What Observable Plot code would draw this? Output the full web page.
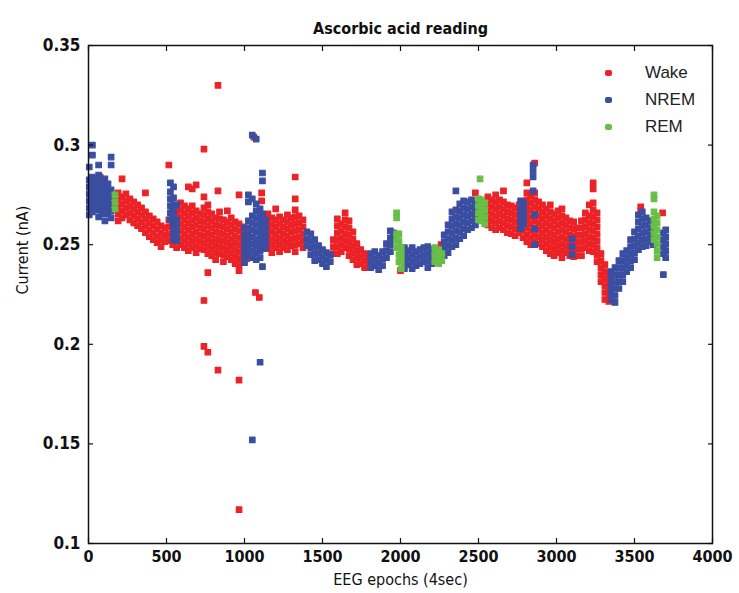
<!DOCTYPE html>
<html><head><meta charset="utf-8">
<script src="https://cdn.jsdelivr.net/npm/d3@7"></script>
<script src="https://cdn.jsdelivr.net/npm/@observablehq/plot@0.6"></script>
<style>
body{margin:0;background:#fff;}
#wrap{position:relative;width:739px;height:593px;}
#legend{position:absolute;left:0;top:0;font-family:"Liberation Sans",Arial,sans-serif;font-size:17px;color:#222;}
.item{position:absolute;white-space:nowrap;line-height:20px;}
.sw{position:absolute;width:7px;height:6px;border-radius:2px;}
</style></head><body><div id="wrap"><div id="legend"></div></div>
<script>
const title = "Ascorbic acid reading";
const xLabel = "EEG epochs (4sec)";
const yLabel = "Current (nA)";
const states = ["Wake", "NREM", "REM"];
const colors = ["#ec2227", "#3a4ea2", "#69bf45"];
const xTicks = [0, 500, 1000, 1500, 2000, 2500, 3000, 3500, 4000];
const yTicks = [0.1, 0.15, 0.2, 0.25, 0.3, 0.35];

// each row: [epoch, current values (nA) read at that epoch ...]
const wake = [
 [20, 0.272], [75, 0.284], [100, 0.282, 0.275],
 [190, 0.276, 0.2725, 0.269, 0.2655, 0.262],
 [215, 0.283, 0.274, 0.2705, 0.267, 0.2635],
 [240, 0.2755, 0.272, 0.2685, 0.265],
 [265, 0.273, 0.2695, 0.266, 0.2625],
 [290, 0.2715, 0.268, 0.2645, 0.261],
 [315, 0.270, 0.2665, 0.263, 0.2595],
 [340, 0.2685, 0.265, 0.2615, 0.258],
 [365, 0.276, 0.2665, 0.263, 0.2595, 0.256],
 [390, 0.2645, 0.261, 0.2575, 0.254],
 [415, 0.263, 0.2595, 0.256, 0.2525],
 [440, 0.2615, 0.258, 0.2545, 0.251],
 [465, 0.2595, 0.256, 0.2525, 0.249],
 [490, 0.2585, 0.255, 0.2515],
 [515, 0.290, 0.2625, 0.259, 0.2555, 0.252],
 [540, 0.2675, 0.264, 0.2605, 0.257, 0.2535, 0.250],
 [565, 0.2695, 0.266, 0.2625, 0.259, 0.2555, 0.252, 0.2485],
 [590, 0.271, 0.2675, 0.264, 0.2605, 0.257, 0.2535, 0.250],
 [615, 0.2695, 0.266, 0.2625, 0.259, 0.2555, 0.252, 0.2485],
 [640, 0.279, 0.268, 0.2645, 0.261, 0.2575, 0.254, 0.2505, 0.247],
 [665, 0.278, 0.2695, 0.266, 0.2625, 0.259, 0.2555, 0.252, 0.2485],
 [690, 0.280, 0.267, 0.2635, 0.260, 0.2565, 0.253, 0.2495, 0.246],
 [715, 0.2655, 0.262, 0.2585, 0.255, 0.2515, 0.248],
 [740, 0.298, 0.274, 0.2685, 0.265, 0.2615, 0.258, 0.2545, 0.251, 0.2475, 0.222, 0.199],
 [765, 0.270, 0.2665, 0.263, 0.2595, 0.256, 0.2525, 0.249, 0.2455, 0.236, 0.196],
 [790, 0.2655, 0.262, 0.2585, 0.255, 0.2515, 0.248, 0.2445],
 [815, 0.2635, 0.260, 0.2565, 0.253, 0.2495, 0.246, 0.2425],
 [830, 0.330, 0.277, 0.187],
 [840, 0.2665, 0.263, 0.2595, 0.256, 0.2525, 0.249, 0.2455],
 [865, 0.2625, 0.259, 0.2555, 0.252, 0.2485, 0.245, 0.2415],
 [890, 0.267, 0.2615, 0.258, 0.2545, 0.251, 0.2475, 0.244],
 [915, 0.2635, 0.260, 0.2565, 0.253, 0.2495, 0.246, 0.2425],
 [940, 0.2615, 0.258, 0.2545, 0.251, 0.2475, 0.244, 0.2405],
 [965, 0.275, 0.2605, 0.257, 0.2535, 0.250, 0.2465, 0.243, 0.2395, 0.237, 0.182, 0.117],
 [990, 0.259, 0.2555, 0.252, 0.2485, 0.245, 0.2415],
 [1015, 0.257, 0.2535, 0.250, 0.2465, 0.243],
 [1060, 0.304], [1070, 0.226], [1095, 0.2235], [1110, 0.276, 0.272],
 [1150, 0.2655, 0.262, 0.2585, 0.255, 0.2515, 0.248],
 [1175, 0.2635, 0.260, 0.2565, 0.253, 0.2495, 0.246],
 [1200, 0.268, 0.2625, 0.259, 0.2555, 0.252, 0.2485],
 [1225, 0.264, 0.2605, 0.257, 0.2535, 0.250, 0.2465],
 [1250, 0.2625, 0.259, 0.2555, 0.252, 0.2485],
 [1275, 0.265, 0.2615, 0.258, 0.2545, 0.251, 0.2475],
 [1300, 0.2635, 0.260, 0.2565, 0.253, 0.2495],
 [1325, 0.284, 0.273, 0.2675, 0.264, 0.2605, 0.257, 0.2535, 0.250, 0.2465],
 [1350, 0.2645, 0.261, 0.2575, 0.254, 0.2505],
 [1375, 0.2625, 0.259, 0.2555, 0.252, 0.2485],
 [1570, 0.2525, 0.249, 0.2455],
 [1595, 0.263, 0.2595, 0.256, 0.2525, 0.249, 0.2455],
 [1620, 0.2605, 0.257, 0.2535, 0.250, 0.2465],
 [1645, 0.266, 0.2625, 0.259, 0.2555, 0.252, 0.2485],
 [1670, 0.262, 0.2585, 0.255, 0.2515, 0.248, 0.2445],
 [1695, 0.2565, 0.253, 0.2495, 0.246, 0.2425],
 [1720, 0.2505, 0.247, 0.2435, 0.240],
 [1745, 0.2475, 0.244, 0.2405],
 [1770, 0.2455, 0.242, 0.2385],
 [1795, 0.244, 0.2405],
 [2000, 0.237], [2260, 0.250],
 [2480, 0.276],
 [2560, 0.274, 0.2705, 0.267, 0.2635, 0.260],
 [2585, 0.2725, 0.269, 0.2655, 0.262, 0.2585],
 [2610, 0.275, 0.2715, 0.268, 0.2645, 0.261, 0.2575],
 [2635, 0.2725, 0.269, 0.2655, 0.262, 0.2585],
 [2660, 0.277, 0.2715, 0.268, 0.2645, 0.261, 0.2575],
 [2685, 0.270, 0.2665, 0.263, 0.2595, 0.256],
 [2710, 0.2695, 0.266, 0.2625, 0.259, 0.2555],
 [2735, 0.2685, 0.265, 0.2615, 0.258, 0.2545],
 [2760, 0.270, 0.2665, 0.263, 0.2595, 0.256],
 [2785, 0.2675, 0.264, 0.2605, 0.257, 0.2535],
 [2810, 0.281, 0.276, 0.2725, 0.269, 0.2655, 0.262, 0.2585, 0.255, 0.2515],
 [2835, 0.2745, 0.271, 0.2675, 0.264, 0.2605, 0.257, 0.2535, 0.250],
 [2860, 0.291, 0.276, 0.2725, 0.269, 0.2655, 0.262, 0.2585, 0.255, 0.2515],
 [2885, 0.2715, 0.268, 0.2645, 0.261, 0.2575, 0.254, 0.2505],
 [2910, 0.270, 0.2665, 0.263, 0.2595, 0.256, 0.2525, 0.249],
 [2935, 0.268, 0.2645, 0.261, 0.2575, 0.254, 0.2505, 0.247],
 [2960, 0.270, 0.2665, 0.263, 0.2595, 0.256, 0.2525, 0.249, 0.2455],
 [2985, 0.2655, 0.262, 0.2585, 0.255, 0.2515, 0.248, 0.2445],
 [3010, 0.267, 0.2635, 0.260, 0.2565, 0.253, 0.2495, 0.246],
 [3035, 0.268, 0.2645, 0.261, 0.2575, 0.254, 0.2505, 0.247, 0.2435],
 [3060, 0.2635, 0.260, 0.2565, 0.253, 0.2495, 0.246],
 [3085, 0.262, 0.2585, 0.255, 0.2515, 0.248, 0.2445],
 [3110, 0.2615, 0.258, 0.2545, 0.251, 0.2475, 0.244],
 [3135, 0.2585, 0.255, 0.2515, 0.248, 0.2445],
 [3160, 0.262, 0.2585, 0.255, 0.2515, 0.248, 0.2445],
 [3185, 0.266, 0.2625, 0.259, 0.2555, 0.252, 0.2485],
 [3210, 0.270, 0.2645, 0.261, 0.2575, 0.254, 0.2505, 0.247],
 [3235, 0.281, 0.278, 0.271, 0.2675, 0.264, 0.2605, 0.257, 0.2535, 0.250, 0.2465],
 [3260, 0.266, 0.2625, 0.259, 0.2555, 0.252, 0.2485, 0.245, 0.2415],
 [3285, 0.2455, 0.242, 0.2385, 0.235, 0.2315],
 [3310, 0.240, 0.2365, 0.233, 0.2295, 0.226, 0.2225],
 [3335, 0.2355, 0.232, 0.2285, 0.225, 0.2215],
 [3540, 0.269, 0.267],
 [3680, 0.266]
];

const nrem = [
 [5, 0.289, 0.2825, 0.279, 0.2755, 0.272, 0.2685, 0.265],
 [25, 0.300, 0.295, 0.284, 0.2805, 0.277, 0.2735, 0.270, 0.2665],
 [45, 0.2825, 0.279, 0.2755, 0.272, 0.2685],
 [65, 0.290, 0.285, 0.2815, 0.278, 0.2745, 0.271, 0.2675, 0.264],
 [85, 0.280, 0.2765, 0.273, 0.2695, 0.266],
 [105, 0.283, 0.2795, 0.276, 0.2725, 0.269, 0.2655, 0.262],
 [125, 0.2805, 0.277, 0.2735, 0.270, 0.2665],
 [145, 0.294, 0.290, 0.2775, 0.274, 0.2705, 0.267, 0.2635],
 [525, 0.281, 0.2765, 0.273, 0.2695, 0.266, 0.2625],
 [545, 0.279, 0.2735, 0.270, 0.2665, 0.263, 0.2595, 0.256, 0.2525],
 [565, 0.270, 0.2625, 0.259, 0.2555, 0.252],
 [1000, 0.2585, 0.255, 0.2515, 0.248, 0.2445, 0.241],
 [1025, 0.275, 0.2715, 0.262, 0.2585, 0.255, 0.2515, 0.248, 0.2445],
 [1050, 0.305, 0.273, 0.2645, 0.261, 0.2575, 0.254, 0.2505, 0.247, 0.2435, 0.152],
 [1075, 0.303, 0.2705, 0.267, 0.2635, 0.260, 0.2565, 0.253, 0.2495, 0.246, 0.2425],
 [1100, 0.268, 0.2645, 0.261, 0.2575, 0.254, 0.2505, 0.247, 0.2435, 0.191],
 [1115, 0.286, 0.282, 0.2655, 0.262, 0.2585, 0.255, 0.2515, 0.248, 0.239],
 [1135, 0.2625, 0.259, 0.2555, 0.252, 0.2485],
 [1400, 0.2565, 0.253, 0.2495],
 [1425, 0.2555, 0.252, 0.2485, 0.245],
 [1450, 0.2525, 0.249, 0.2455, 0.242],
 [1475, 0.2495, 0.246, 0.2425],
 [1500, 0.2475, 0.244, 0.2405],
 [1525, 0.246, 0.2425, 0.239],
 [1550, 0.245, 0.2415],
 [1810, 0.2455, 0.242, 0.2385],
 [1835, 0.2465, 0.243, 0.2395],
 [1860, 0.2445, 0.241, 0.2375],
 [1885, 0.2465, 0.243, 0.2395],
 [1910, 0.2505, 0.247, 0.2435],
 [1935, 0.257, 0.2535, 0.250, 0.2465],
 [1955, 0.256, 0.2525],
 [2025, 0.2485, 0.245, 0.2415, 0.238],
 [2050, 0.247, 0.2435, 0.240],
 [2075, 0.2485, 0.245, 0.2415, 0.238],
 [2100, 0.2465, 0.243, 0.2395],
 [2125, 0.2475, 0.244, 0.2405],
 [2150, 0.2485, 0.245, 0.2415],
 [2175, 0.249, 0.2455, 0.242, 0.2385],
 [2200, 0.2475, 0.244, 0.2405],
 [2280, 0.255, 0.2515, 0.248, 0.2445],
 [2305, 0.260, 0.2565, 0.253, 0.2495, 0.246],
 [2330, 0.2665, 0.263, 0.2595, 0.256, 0.2525, 0.249],
 [2355, 0.277, 0.2675, 0.264, 0.2605, 0.257, 0.2535, 0.250],
 [2380, 0.2705, 0.267, 0.2635, 0.260, 0.2565, 0.253],
 [2405, 0.272, 0.2685, 0.265, 0.2615, 0.258, 0.2545],
 [2430, 0.2715, 0.268, 0.2645, 0.261, 0.2575],
 [2455, 0.2725, 0.269, 0.2655, 0.262, 0.2585],
 [2480, 0.2705, 0.267, 0.2635, 0.260],
 [2770, 0.272, 0.2685, 0.265, 0.2615, 0.258],
 [2790, 0.271, 0.2675, 0.264, 0.2605],
 [2850, 0.290, 0.287, 0.284, 0.277],
 [2860, 0.265, 0.258, 0.250],
 [3100, 0.253, 0.249, 0.245],
 [3350, 0.2365, 0.233, 0.2295, 0.226, 0.2225],
 [3375, 0.2385, 0.235, 0.2315, 0.228, 0.2245, 0.221],
 [3400, 0.242, 0.2385, 0.235, 0.2315, 0.228],
 [3425, 0.2455, 0.242, 0.2385, 0.235, 0.2315],
 [3450, 0.247, 0.2435, 0.240, 0.2365],
 [3475, 0.2525, 0.249, 0.2455, 0.242, 0.2385],
 [3500, 0.2565, 0.253, 0.2495, 0.246, 0.2425],
 [3525, 0.265, 0.2615, 0.258, 0.2545, 0.251, 0.2475],
 [3550, 0.2665, 0.263, 0.2595, 0.256, 0.2525, 0.249],
 [3575, 0.2635, 0.260, 0.2565, 0.253, 0.2495],
 [3600, 0.262, 0.2585, 0.255, 0.2515],
 [3620, 0.257, 0.2535, 0.250],
 [3685, 0.256, 0.2525, 0.249, 0.2455, 0.235],
 [3700, 0.2575, 0.254, 0.2505, 0.247, 0.2435]
];

const rem = [
 [170, 0.275, 0.2715, 0.268],
 [1975, 0.266, 0.2635, 0.2555, 0.252, 0.2485],
 [1990, 0.2555, 0.252, 0.2485, 0.245, 0.2415],
 [2005, 0.2485, 0.245, 0.2415, 0.238],
 [2220, 0.2485, 0.245, 0.2415],
 [2245, 0.2475, 0.244, 0.2405],
 [2265, 0.2455, 0.242],
 [2500, 0.273, 0.2695, 0.266, 0.2625],
 [2510, 0.283],
 [2520, 0.2725, 0.269, 0.2655, 0.262],
 [2540, 0.271, 0.2675, 0.264, 0.2605],
 [3625, 0.275, 0.273, 0.2665, 0.263, 0.2595, 0.256, 0.2525],
 [3645, 0.2645, 0.261, 0.2575, 0.254, 0.2505, 0.247, 0.2435]
];

const toRows = (cols, state) => cols.flatMap(([e, ...vs]) => vs.map(v => ({epoch: e, current: v, state})));
const data = [...toRows(wake, "Wake"), ...toRows(nrem, "NREM"), ...toRows(rem, "REM")];

const narrow = '"Liberation Sans Narrow", "Arial Narrow", "DejaVu Sans Condensed", sans-serif';

const chart = Plot.plot({
  width: 739, height: 593,
  marginLeft: 88, marginRight: 27, marginTop: 45, marginBottom: 50,
  style: {fontFamily: narrow, fontSize: "16px", background: "white", color: "#111", overflow: "visible"},
  x: {domain: [0, 4000]},
  y: {domain: [0.1, 0.35]},
  color: {domain: states, range: colors},
  marks: [
    Plot.dot(data, {x: "epoch", y: "current", fill: "state", stroke: "state", symbol: "square", r: 3.1, strokeWidth: 1.2, strokeLinejoin: "round"}),
    Plot.frame({stroke: "#111", strokeWidth: 1.5}),
    Plot.axisX(xTicks, {anchor: "bottom", tickSize: 5, insetBottom: 5, fill: "none", label: null, strokeWidth: 1.2}),
    Plot.axisX(xTicks, {anchor: "top", tickSize: 5, insetTop: 5, fill: "none", label: null, strokeWidth: 1.2}),
    Plot.axisY(yTicks, {anchor: "left", tickSize: 5, insetLeft: 5, fill: "none", label: null, strokeWidth: 1.2}),
    Plot.axisY(yTicks, {anchor: "right", tickSize: 5, insetRight: 5, fill: "none", label: null, strokeWidth: 1.2}),
    Plot.axisX(xTicks, {anchor: "bottom", tickSize: 0, tickPadding: 7, tickFormat: "d", label: null, fontWeight: "bold", fontSize: 16}),
    Plot.axisY(yTicks, {anchor: "left", tickSize: 0, tickPadding: 8, tickFormat: d => String(d), label: null, fontWeight: "bold", fontSize: 17}),
    Plot.text([title], {frameAnchor: "top", dy: -23, fontWeight: "bold", fontSize: 16}),
    Plot.text([xLabel], {frameAnchor: "bottom", dy: 41, fontSize: 16}),
    Plot.text([yLabel], {frameAnchor: "left", dx: -66, rotate: -90, fontSize: 16})
  ]
});
document.getElementById("wrap").prepend(chart);

const legend = document.getElementById("legend");
states.forEach((s, i) => {
  const top = 63 + i * 27;
  const sw = document.createElement("div");
  sw.className = "sw";
  sw.style.left = "605px"; sw.style.top = (top + 7) + "px"; sw.style.background = colors[i];
  const lb = document.createElement("div");
  lb.className = "item";
  lb.style.left = "645px"; lb.style.top = top + "px";
  lb.textContent = s;
  legend.append(sw, lb);
});
</script>
</body></html>
